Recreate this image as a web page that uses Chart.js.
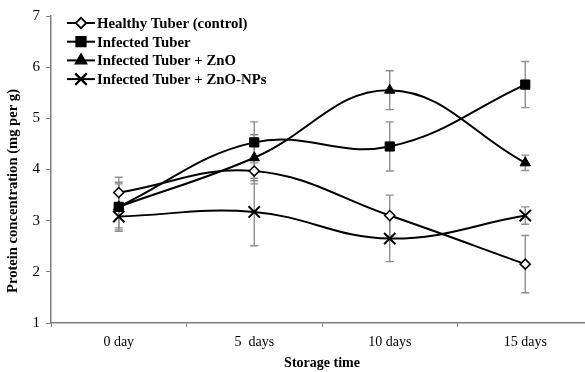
<!DOCTYPE html>
<html>
<head>
<meta charset="utf-8">
<script src="https://cdn.jsdelivr.net/npm/chart.js@4/dist/chart.umd.min.js"></script>
<style>
html, body { margin: 0; padding: 0; background: #fff; overflow: hidden; width: 585px; height: 372px; }
#wrap { width: 603px; height: 372px; }
</style>
</head>
<body>
<div id="wrap"><canvas id="proteinChart" width="603" height="372"></canvas></div>
<script>
// data
const days = ['0 day', '5  days', '10 days', '15 days'];
const seriesNames = ['Healthy Tuber (control)', 'Infected Tuber', 'Infected Tuber + ZnO', 'Infected Tuber + ZnO-NPs'];

const healthy = [3.55, 3.97, 3.10, 2.15];
const infected = [3.27, 4.53, 4.45, 5.66];
const infectedZnO = [3.27, 4.23, 5.55, 4.13];
const infectedNPs = [3.08, 3.17, 2.65, 3.10];

const healthyErr = [0.30, 0.25, 0.40, 0.56];
const infectedErr = [0.48, 0.40, 0.48, 0.45];
const infectedZnOErr = [0.45, 0.45, 0.38, 0.15];
const infectedNPsErr = [0.22, 0.66, 0.45, 0.17];

const yTicks = [1, 2, 3, 4, 5, 6, 7];
const yTitle = 'Protein concentration (mg per g)';

const serif = "'Liberation Serif', 'Times New Roman', serif";
const errors = [healthyErr, infectedErr, infectedZnOErr, infectedNPsErr];

// error bars, drawn under the lines
const errorBars = {
    id: 'errorBars',
    beforeDatasetsDraw(chart) {
        const c = chart.ctx;
        const y = chart.scales.y;
        c.save();
        c.strokeStyle = '#8e8e8e';
        c.lineWidth = 1.4;
        chart.data.datasets.forEach((ds, i) => {
            const meta = chart.getDatasetMeta(i);
            meta.data.forEach((pt, j) => {
                const v = ds.data[j], e = errors[i][j];
                const top = y.getPixelForValue(v + e);
                const bot = y.getPixelForValue(v - e);
                c.beginPath();
                c.moveTo(pt.x, top); c.lineTo(pt.x, bot);
                c.moveTo(pt.x - 4, top); c.lineTo(pt.x + 4, top);
                c.moveTo(pt.x - 4, bot); c.lineTo(pt.x + 4, bot);
                c.stroke();
            });
        });
        c.restore();
    }
};

// legend inside the plot, line with marker like the original
// (the y title is drawn here too, it sits a bit below the middle in the original)
const innerLegend = {
    id: 'innerLegend',
    afterDraw(chart) {
        const c = chart.ctx;
        c.save();
        c.font = 'bold 14.8px ' + serif;
        c.textBaseline = 'middle';
        c.fillStyle = '#000';
        chart.data.datasets.forEach((ds, i) => {
            const yy = 23 + i * 18.7;
            c.strokeStyle = '#000';
            c.lineWidth = 2;
            c.beginPath();
            c.moveTo(67, yy); c.lineTo(95, yy);
            c.stroke();
            Chart.helpers.drawPoint(c, {
                pointStyle: ds.pointStyle,
                radius: ds.pointRadius,
                borderWidth: ds.pointBorderWidth,
                rotation: 0
            }, 81, yy);
            c.fillStyle = ds.pointBackgroundColor;
            c.strokeStyle = '#000';
            c.lineWidth = ds.pointBorderWidth;
            c.fill();
            c.stroke();
            c.fillStyle = '#000';
            c.fillText(ds.label, 97, yy + 1);
        });

        c.translate(13, 191);
        c.rotate(-Math.PI / 2);
        c.textAlign = 'center';
        c.font = 'bold 14.6px ' + serif;
        c.fillText(yTitle, 0, 0);
        c.restore();
    }
};

function series(label, data, style, radius, fill, bw) {
    return {
        label: label,
        data: data,
        borderColor: '#000',
        borderWidth: 2,
        tension: 0.4,
        pointStyle: style,
        pointRadius: radius,
        pointHoverRadius: radius,
        pointBackgroundColor: fill,
        pointBorderColor: '#000',
        pointBorderWidth: bw
    };
}

const ctx = document.getElementById('proteinChart').getContext('2d');
const proteinChart = new Chart(ctx, {
    type: 'line',
    data: {
        labels: days,
        datasets: [
            series(seriesNames[0], healthy, 'rectRot', 5, '#fff', 1.6),
            series(seriesNames[1], infected, 'rect', 6.5, '#000', 1),
            series(seriesNames[2], infectedZnO, 'triangle', 6, '#000', 1),
            series(seriesNames[3], infectedNPs, 'crossRot', 8, '#000', 2)
        ]
    },
    options: {
        responsive: false,
        animation: false,
        devicePixelRatio: 1,
        layout: { padding: { top: 16, left: 0, right: 0, bottom: 0 } },
        plugins: {
            legend: { display: false },
            tooltip: { enabled: false }
        },
        scales: {
            x: {
                offset: true,
                grid: { offset: true, drawOnChartArea: false, drawTicks: true, tickLength: 4, color: '#7f7f7f', lineWidth: 1 },
                border: { color: '#7f7f7f', width: 1.5 },
                ticks: { color: '#000', font: { family: serif, size: 14 }, padding: 7, maxRotation: 0 },
                title: { display: true, text: 'Storage time', color: '#000', font: { family: serif, size: 14, weight: 'bold' }, padding: { top: 2, bottom: 0 } },
                afterFit(scale) { scale.height = 49; }
            },
            y: {
                min: 1,
                max: 7,
                afterBuildTicks(scale) { scale.ticks = yTicks.map(v => ({ value: v })); },
                grid: { drawOnChartArea: false, drawTicks: true, tickLength: 5, color: '#7f7f7f' },
                border: { color: '#7f7f7f', width: 1.5 },
                ticks: { color: '#000', font: { family: serif, size: 15 }, padding: 6 },
                afterFit(scale) { scale.width = 51; }
            }
        }
    },
    plugins: [errorBars, innerLegend]
});
</script>
</body>
</html>
